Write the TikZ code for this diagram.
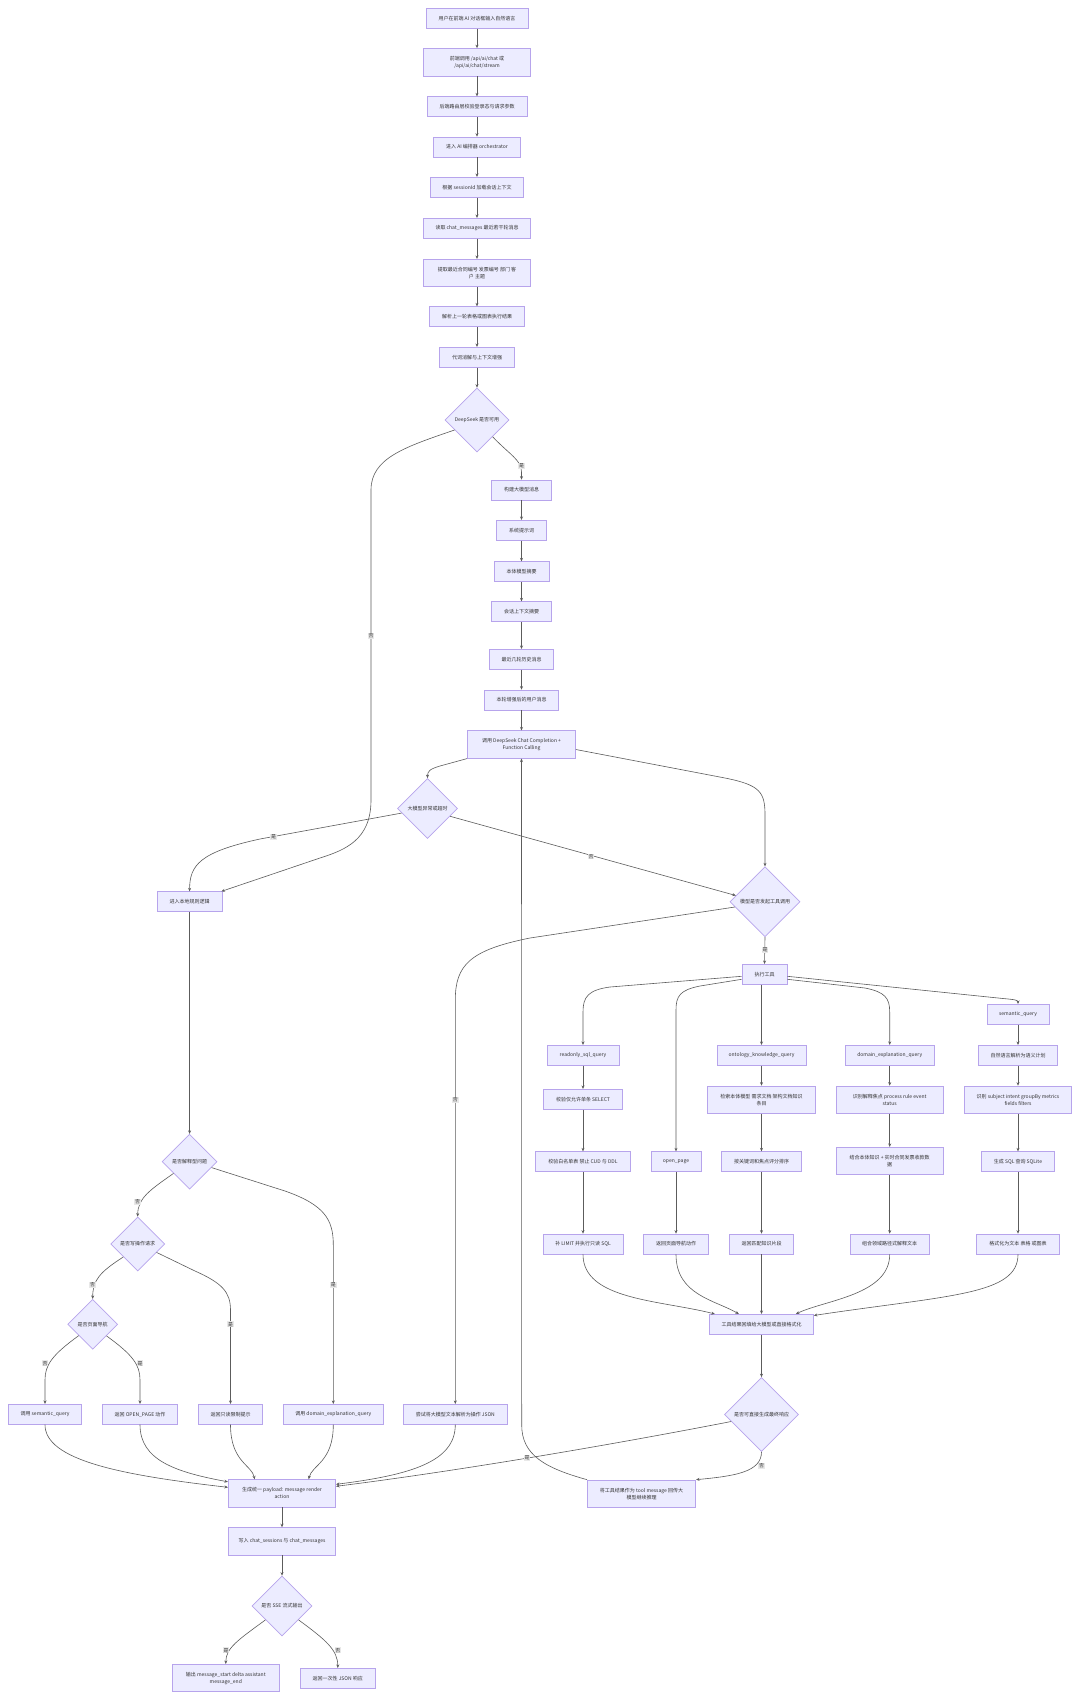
\documentclass[tikz,border=0pt]{standalone}
\usepackage{fontspec}
\setmainfont{Noto Sans CJK SC}
\usetikzlibrary{shapes.geometric,arrows.meta}
\definecolor{nfill}{HTML}{ECECFF}
\definecolor{ndraw}{HTML}{B7A4EC}
\definecolor{ecol}{HTML}{5C5C5C}
\definecolor{tcol}{HTML}{333333}
\definecolor{lfill}{HTML}{E8E8E8}
\begin{document}
\begin{tikzpicture}[x=1pt,y=-1pt,
 every node/.style={font=\fontsize{5}{7}\selectfont, text=tcol},
 pbox/.style={draw=ndraw, fill=nfill, line width=0.7pt, rectangle, align=center, inner xsep=3pt, inner ysep=3pt, minimum height=20pt, minimum width=#1},
 tall/.style={minimum height=27.4pt},
 decis/.style={diamond, aspect=1, draw=ndraw, fill=nfill, line width=0.7pt, align=center, inner sep=0pt, minimum width=#1, minimum height=#1},
 lbl/.style={fill=lfill, inner sep=0.8pt, font=\fontsize{5}{6}\selectfont},
 arr/.style={draw=ecol, line width=0.6pt, -{Stealth[length=3.5pt,width=3pt]}},
]
\fill[white] (0,0) rectangle (1080,1700);
\useasboundingbox (0,0) rectangle (1080,1700);

% main chain
\node[pbox=102pt] (n1) at (477,18.3) {用户在前端 AI 对话框输入自然语言};
\node[pbox=107.4pt,tall] (n2) at (477,62.2) {前端调用 /api/ai/chat 或\\/api/ai/chat/stream};
\node[pbox=99.7pt] (n3) at (477,106.7) {后端路由层校验登录态与请求参数};
\node[pbox=87.4pt] (n4) at (477,147) {进入 AI 编排器 orchestrator};
\node[pbox=92.6pt] (n5) at (477,187.3) {根据 sessionId 加载会话上下文};
\node[pbox=107.4pt] (n6) at (477,228.3) {读取 chat\_messages 最近若干轮消息};
\node[pbox=107.4pt,tall] (n7) at (477,273) {提取最近合同编号 发票编号 部门 客\\户 主题};
\node[pbox=95.4pt] (n8) at (477,316.7) {解析上一轮表格或图表执行结果};
\node[pbox=75.4pt] (n9) at (477,357.3) {代词消解与上下文增强};
\node[decis=64pt] (d1) at (477,420) {DeepSeek 是否可用};
\node[pbox=60pt] (c1) at (521.5,490) {构建大模型消息};
\node[pbox=50.4pt] (c2) at (521.5,530.3) {系统提示词};
\node[pbox=54.7pt] (c3) at (521.5,571.7) {本体模型摘要};
\node[pbox=60pt] (c4) at (521.5,611.7) {会话上下文摘要};
\node[pbox=64.4pt] (c5) at (521.5,659.3) {最近几轮历史消息};
\node[pbox=74.4pt] (c6) at (521.5,700) {本轮增强后的用户消息};
\node[pbox=108pt,tall] (c7) at (521.5,744.5) {调用 DeepSeek Chat Completion +\\Function Calling};
\node[decis=60pt] (d2) at (427.5,808.5) {大模型异常或超时};
\node[decis=70pt] (d3) at (765,901.7) {模型是否发起工具调用};
\node[pbox=65pt] (L0) at (189.6,901.7) {进入本地规则逻辑};
\node[decis=55pt] (d4) at (189.6,1161.7) {是否解释型问题};
\node[decis=54pt] (d5) at (137.7,1244) {是否写操作请求};
\node[decis=50pt] (d6) at (92.7,1324.3) {是否页面导航};
\node[pbox=73.4pt] (b1) at (45,1414.3) {调用 semantic\_query};
\node[pbox=75.4pt] (b2) at (140,1414.3) {返回 OPEN\_PAGE 动作};
\node[pbox=64.4pt] (b3) at (230.5,1414.3) {返回只读限制提示};
\node[pbox=100pt] (b4) at (333.3,1414.3) {调用 domain\_explanation\_query};
\node[pbox=103.3pt] (b5) at (455.3,1414.3) {尝试将大模型文本解析为操作 JSON};
% tools
\node[pbox=45.2pt] (T) at (764.5,974.3) {执行工具};
\node[pbox=62pt] (sq) at (1018,1014.3) {semantic\_query};
\node[pbox=72pt] (r1) at (583,1055.3) {readonly\_sql\_query};
\node[pbox=89pt] (o1) at (761.5,1055.3) {ontology\_knowledge\_query};
\node[pbox=89pt] (e1) at (889.7,1055.3) {domain\_explanation\_query};
\node[pbox=79.3pt] (s1) at (1018,1055.3) {自然语言解析为语义计划};
\node[pbox=78.6pt] (r2) at (583,1099.3) {校验仅允许单条 SELECT};
\node[pbox=107.8pt,tall] (o2) at (761.5,1099.7) {检索本体模型 需求文档 架构文档知识\\条目};
\node[pbox=107.3pt,tall] (e2) at (889.7,1099.7) {识别解释焦点 process rule event\\status};
\node[pbox=107.4pt,tall] (s2) at (1018,1099.7) {识别 subject intent groupBy metrics\\fields filters};
\node[pbox=95.4pt] (r3) at (583,1161.7) {校验白名单表 禁止 CUD 与 DDL};
\node[pbox=50.2pt] (op) at (676,1161.7) {open\_page};
\node[pbox=80pt] (o3) at (761.5,1161.7) {按关键词和焦点评分排序};
\node[pbox=107.3pt,tall] (e3) at (889.7,1161) {结合本体知识 + 实时合同发票收款数\\据};
\node[pbox=73pt] (s3) at (1018,1161.7) {生成 SQL 查询 SQLite};
\node[pbox=80pt] (r4) at (583,1244) {补 LIMIT 并执行只读 SQL};
\node[pbox=65pt] (op2) at (676,1244) {返回页面导航动作};
\node[pbox=64.2pt] (o4) at (761.5,1244) {返回匹配知识片段};
\node[pbox=79.3pt] (e4) at (889.7,1244) {组合领域路径式解释文本};
\node[pbox=82.8pt] (s4) at (1018,1244) {格式化为文本 表格 或图表};
\node[pbox=104pt] (R) at (761.5,1324.3) {工具结果回填给大模型或直接格式化};
\node[decis=74pt] (d7) at (761.5,1414.5) {是否可直接生成最终响应};
\node[pbox=108.4pt,tall] (TM) at (641.5,1493.7) {将工具结果作为 tool message 回传大\\模型继续推理};
\node[pbox=107.4pt,tall] (P) at (282,1493.3) {生成统一 payload: message render\\action};
\node[pbox=107.4pt,tall] (W) at (282,1541.3) {写入 chat\_sessions 与 chat\_messages};
\node[decis=60pt] (d8) at (282,1606) {是否 SSE 流式输出};
\node[pbox=107pt,tall] (S1) at (225.8,1678) {输出 message\_start delta assistant\\message\_end};
\node[pbox=75pt] (S2) at (337.8,1678.3) {返回一次性 JSON 响应};

% edges: main chain
\draw[arr] (n1) -- (n2);
\draw[arr] (n2) -- (n3);
\draw[arr] (n3) -- (n4);
\draw[arr] (n4) -- (n5);
\draw[arr] (n5) -- (n6);
\draw[arr] (n6) -- (n7);
\draw[arr] (n7) -- (n8);
\draw[arr] (n8) -- (n9);
\draw[arr] (n9) -- (d1);
\draw[arr] (d1.-47) .. controls (510,455) and (521.5,460) .. (521.5,472) -- (c1.north);
\draw[arr] (d1.204) .. controls (405,447) and (371,458) .. (371,490) -- (371,800) .. controls (371,840) and (345,850) .. (320,858) -- ([xshift=-1pt]L0.north east);
\draw[arr] (c1) -- (c2);
\draw[arr] (c2) -- (c3);
\draw[arr] (c3) -- (c4);
\draw[arr] (c4) -- (c5);
\draw[arr] (c5) -- (c6);
\draw[arr] (c6) -- (c7);
\draw[arr] (c7.south west) -- (440,766) .. controls (430,769) and (427.5,771) .. (d2.north);
\draw[arr] ([yshift=-5pt]c7.east) -- (725,778) .. controls (760,785) and (765,792) .. (765,815) -- (d3.north);
\draw[arr] (d2.190) -- (260,839) .. controls (200,852) and (189.6,865) .. (L0.north);
\draw[arr] (d2.-19) -- (d3.168);
\draw[arr] (d3.190) -- (530,938) .. controls (470,950) and (455.3,965) .. (455.3,1000) -- (b5.north);
\draw[arr] (d3.south) -- (T.north);
% tools
\draw[arr] ([yshift=-2pt]T.west) -- (610,987) .. controls (588,990) and (583,997) .. (583,1012) -- (r1.north);
\draw[arr] ([yshift=-5pt]T.west) -- (700,986) .. controls (680,990) and (676,996) .. (676,1010) -- (op.north);
\draw[arr] (T.south -| o1.north) -- (o1.north);
\draw[arr] ([yshift=-5pt]T.east) -- (865,988) .. controls (885,992) and (889.7,998) .. (889.7,1012) -- (e1.north);
\draw[arr] ([yshift=-2pt]T.east) -- (1003,998.5) .. controls (1014,999.5) and (1018,1000) .. (sq.north);
\draw[arr] (r1) -- (r2);
\draw[arr] (r2) -- (r3);
\draw[arr] (r3) -- (r4);
\draw[arr] (op) -- (op2);
\draw[arr] (o1) -- (o2);
\draw[arr] (o2) -- (o3);
\draw[arr] (o3) -- (o4);
\draw[arr] (e1) -- (e2);
\draw[arr] (e2) -- (e3);
\draw[arr] (e3) -- (e4);
\draw[arr] (sq) -- (s1);
\draw[arr] (s1) -- (s2);
\draw[arr] (s2) -- (s3);
\draw[arr] (s3) -- (s4);
\draw[arr] (r4.south) .. controls (583,1300) and (660,1300) .. ([xshift=5.7pt]R.north west);
\draw[arr] (op2.south) .. controls (676,1295) and (715,1300) .. ([xshift=29.7pt]R.north west);
\draw[arr] (o4) -- (R);
\draw[arr] (e4.south) .. controls (889.7,1295) and (825,1300) .. ([xshift=-18pt]R.north east);
\draw[arr] (s4.south) .. controls (1018,1295) and (950,1295) .. ([yshift=-1.5pt]R.north east);
\draw[arr] (R) -- (d7);
\draw[arr] (d7.193) .. controls (600,1447) and (450,1472) .. ([yshift=7pt]P.east);
\draw[arr] (d7.south) .. controls (761.5,1472) and (735,1476) .. (TM.north east);
\draw[arr] (TM.north west) .. controls (545,1468) and (521.7,1455) .. (521.7,1425) -- (c7.south);
\draw[arr] (b5.south) .. controls (455.3,1462) and (410,1475) .. ([yshift=9pt]P.east);
% local rules
\draw[arr] (L0) -- (d4);
\draw[arr] (d4.216) .. controls (150,1190) and (137.7,1198) .. (d5.north);
\draw[arr] (d4.-15) -- (285,1191) .. controls (325,1205) and (333.3,1220) .. (333.3,1245) -- (b4.north);
\draw[arr] (d5.222) .. controls (100,1272) and (92.7,1280) .. (d6.north);
\draw[arr] (d5.-24) -- (195,1271) .. controls (222,1283) and (230.5,1292) .. (230.5,1310) -- (b3.north);
\draw[arr] (d6.219) .. controls (52,1355) and (45,1365) .. (45,1380) -- (b1.north);
\draw[arr] (d6.-40) .. controls (133,1355) and (140,1365) .. (140,1380) -- (b2.north);
\draw[arr] (b1.south) .. controls (45,1460) and (120,1475) .. ([yshift=6pt]P.west);
\draw[arr] (b2.south) .. controls (140,1460) and (175,1472) .. ([yshift=11.5pt]P.west);
\draw[arr] (b3.south) .. controls (230.5,1462) and (252,1465) .. ([xshift=26.7pt]P.north west);
\draw[arr] (b4.south) .. controls (333.3,1462) and (312,1465) .. ([xshift=-27.4pt]P.north east);
\draw[arr] (P) -- (W);
\draw[arr] (W) -- (d8);
\draw[arr] (d8.220) .. controls (238,1640) and (225.8,1648) .. (S1.north);
\draw[arr] (d8.-40) .. controls (326,1640) and (337.8,1650) .. (S2.north);

% labels
\node[lbl] (lb1) at (521.5,466) {是};
\node[lbl] (lb2) at (371,635.7) {否};
\node[lbl] (lb3) at (273.7,836.7) {是};
\node[lbl] (lb4) at (591,856.5) {否};
\node[lbl] (lb5) at (455.3,1100) {否};
\node[lbl] (lb6) at (765,950) {是};
\node[lbl] (lb7) at (527,1458) {是};
\node[lbl] (lb8) at (761.5,1465.7) {否};
\node[lbl] (lb9) at (137.7,1201.7) {否};
\node[lbl] (lb10) at (333.3,1285) {是};
\node[lbl] (lb11) at (92.7,1285) {否};
\node[lbl] (lb12) at (230.5,1324.3) {是};
\node[lbl] (lb13) at (45,1363.3) {否};
\node[lbl] (lb14) at (140,1363.3) {是};
\node[lbl] (lb15) at (226,1650.3) {是};
\node[lbl] (lb16) at (337.8,1650.3) {否};
\end{tikzpicture}
\end{document}
